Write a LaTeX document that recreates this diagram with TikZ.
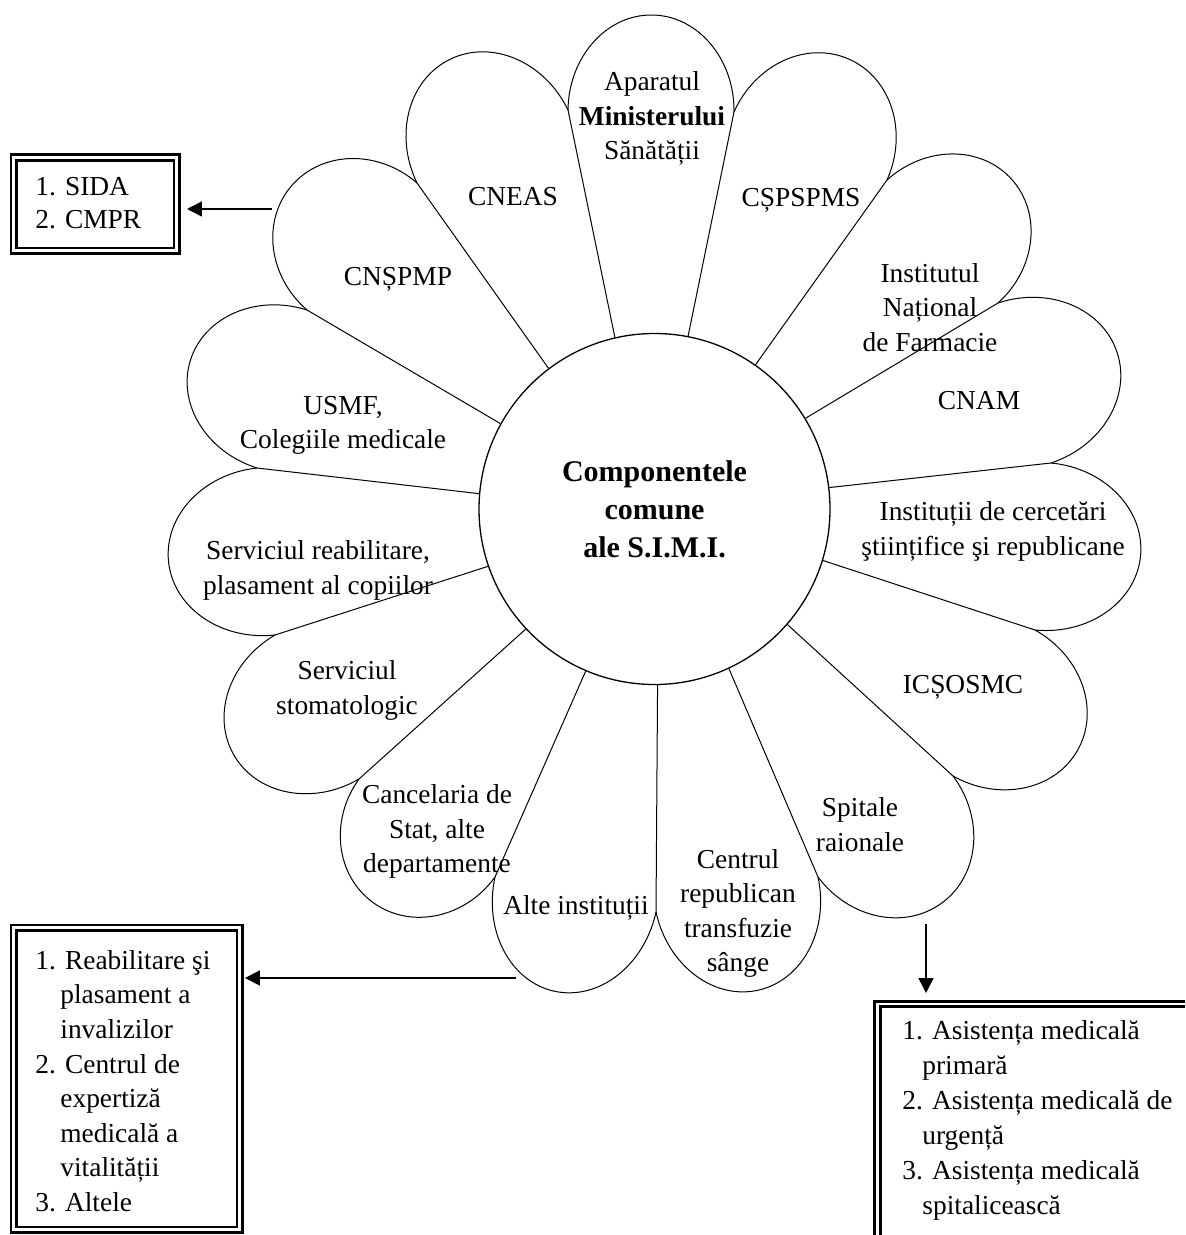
\documentclass[tikz,border=0pt]{standalone}
\usepackage{fontspec}
\setmainfont{Liberation Serif}
\usetikzlibrary{calc,arrows.meta}
\newcommand\mycap[3]{%
  \coordinate (cm) at ($(#1)!0.5!(#2)$);
  \coordinate (ct) at ($(cm)!#3!90:(#2)$);
  \coordinate (cta) at ($(ct)+(#1)-(cm)$);
  \coordinate (ctb) at ($(ct)+(#2)-(cm)$);
  \coordinate (can) at ($(#1)+(ct)-(cm)$);
  \coordinate (cbn) at ($(#2)+(ct)-(cm)$);
  \draw[petal] (#1) .. controls ($(#1)!0.5523!(can)$) and ($(ct)!0.5523!(cta)$) .. (ct)
    .. controls ($(ct)!0.5523!(ctb)$) and ($(#2)!0.5523!(cbn)$) .. (#2);%
}
\begin{document}
\begin{tikzpicture}[x=0.5pt,y=-0.5pt,
  petal/.style={line width=0.5pt},
  core/.style={circle, draw, line width=0.65pt, minimum size=175.5pt, inner sep=0,
    font=\bfseries\fontsize{15}{19}\selectfont, align=center},
  lbl/.style={font=\fontsize{13.7}{17.2}\selectfont, align=center, inner sep=0},
  btxt/.style={font=\fontsize{13.7}{#1}\selectfont, align=left, inner sep=0, anchor=west},
  dbox/.style={rectangle, draw, line width=1.3pt, double, double distance=1.45pt, inner sep=0, outer sep=0},
  arr/.style={line width=0.8pt, -{Triangle[length=7.4pt,width=7.4pt]}}]
\path[use as bounding box] (0,0) rectangle (1185,1235);
\clip (0,0) rectangle (1185,1235);

% centre
\node[core] (core) at (654.5,509) {Componentele\\comune\\ale S.I.M.I.};

% outer junction points of the petals
\coordinate (q1) at (568,110);
\coordinate (q2) at (734,112);
\coordinate (q3) at (887,180);
\coordinate (q4) at (998,303);
\coordinate (q5) at (1051,463);
\coordinate (q6) at (1035,630);
\coordinate (q7) at (953,776);
\coordinate (q8) at (818,877);
\coordinate (q9) at (656,912);
\coordinate (q10) at (495,877);
\coordinate (q11) at (359,779);
\coordinate (q12) at (275,635);
\coordinate (q13) at (257,468);
\coordinate (q14) at (307,310);
\coordinate (q15) at (417,183);

% petal sides
\foreach \k/\a in {1/103,2/79,3/55,4/31,5/7,6/-17,7/-41,8/-65,9/-89,10/-113,11/-137,12/-161,13/175,14/151,15/127}
  \draw[petal] (core.\a) -- (q\k);

% petal caps
\mycap{q15}{q1}{48.5pt}
\mycap{q1}{q2}{48pt}
\mycap{q2}{q3}{47.5pt}
\mycap{q3}{q4}{46.5pt}
\mycap{q4}{q5}{48.75pt}
\mycap{q5}{q6}{49pt}
\mycap{q6}{q7}{48pt}
\mycap{q7}{q8}{47.5pt}
\mycap{q8}{q9}{49pt}
\mycap{q9}{q10}{49.5pt}
\mycap{q10}{q11}{46pt}
\mycap{q11}{q12}{48pt}
\mycap{q12}{q13}{49pt}
\mycap{q13}{q14}{48pt}
\mycap{q14}{q15}{46.5pt}

% petal labels
\node[lbl] (l1) at (652,118.5) {Aparatul\\\textbf{Ministerului}\\Sănătății};
\node[lbl] (l2) at (513,197) {CNEAS};
\node[lbl] (l3) at (801,200) {CȘPSPMS};
\node[lbl] (l4) at (398,279) {CNȘPMP};
\node[lbl] (l5) at (930,307.5) {Institutul\\Național\\de Farmacie};
\node[lbl] (l6) at (979,401) {CNAM};
\node[lbl] (l7) at (343,425.5) {USMF,\\Colegiile medicale};
\node[lbl] (l8) at (993,531.5) {Instituții de cercetări\\ştiințifice şi republicane};
\node[lbl] (l9) at (318,570.5) {Serviciul reabilitare,\\plasament al copiilor};
\node[lbl] (l10) at (347,690.5) {Serviciul\\stomatologic};
\node[lbl] (l11) at (963,687) {ICȘOSMC};
\node[lbl] (l12) at (437,831.5) {Cancelaria de\\Stat, alte\\departamente};
\node[lbl] (l13) at (860,824.5) {Spitale\\raionale};
\node[lbl] (l14) at (738,913.5) {Centrul\\republican\\transfuzie\\sânge};
\node[lbl] (l15) at (576,908) {Alte instituții};

% boxes
\node[dbox, minimum width=81.5pt, minimum height=46.65pt] (sida) at (95.3,204.2) {};
\node[dbox, minimum width=113pt, minimum height=151pt] (lbox) at (126.75,1078.75) {};
\node[dbox, minimum width=161.25pt, minimum height=123pt] (rbox) at (1038.75,1127) {};

\node[btxt=16.6pt] (sidat) at (35,203.5) {1. SIDA\\2. CMPR};
\node[btxt=17.29pt] (lboxt) at (35,1081) {1. Reabilitare şi\\\hspace*{12.5pt}plasament a\\\hspace*{12.5pt}invalizilor\\2. Centrul de\\\hspace*{12.5pt}expertiză\\\hspace*{12.5pt}medicală a\\\hspace*{12.5pt}vitalității\\3. Altele};
\node[btxt=17.5pt] (rboxt) at (902,1120) {1. Asistența medicală\\\hspace*{10pt}primară\\2. Asistența medicală de\\\hspace*{10pt}urgență\\3. Asistența medicală\\\hspace*{10pt}spitalicească};

% arrows
\coordinate (a1s) at (272,209);
\draw[arr, shorten >=5.1pt] (a1s) -- (a1s -| sida.east);
\coordinate (a2s) at (516,978);
\draw[arr, shorten >=2.6pt] (a2s) -- (a2s -| lbox.east);
\coordinate (a3s) at (926,924);
\draw[arr, shorten >=5.5pt] (a3s) -- (a3s |- rbox.north);
\end{tikzpicture}
\end{document}
